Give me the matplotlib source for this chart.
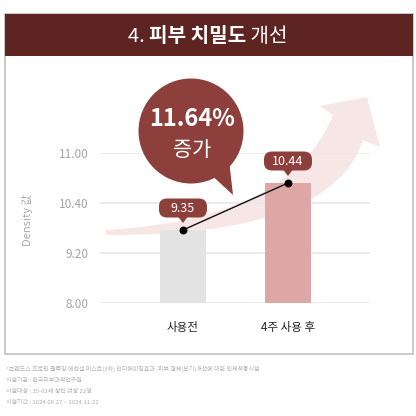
import matplotlib
matplotlib.use("Agg")
import matplotlib.pyplot as plt
import numpy as np
from matplotlib.patches import Rectangle, Circle, Polygon, FancyBboxPatch, PathPatch
from matplotlib.path import Path

plt.rcParams['font.family'] = ['Noto Sans CJK KR', 'DejaVu Sans']

# ---- data ----
categories = ["사용전", "4주 사용 후"]
values = [9.35, 10.44]
value_labels = ["9.35", "10.44"]
tick_labels = ["8.00", "9.20", "10.40", "11.00"]
ylabel = "Density 값"
title_parts = [("4. ", "normal"), ("피부 치밀도", "bold"), (" 개선", "normal")]
bubble_pct = "11.64%"
bubble_word = "증가"
footnotes = [
    "*브랜드스 프로틴 블루밍 에센셜 미스트(3차) 안티에이징효과, 피부 결체(보기)개선에 대한 인체적용시험",
    "시험기관 : 한국피부과학연구원",
    "시험대상 : 35-62세 성인 여성 22명",
    "시험기간 : 2024.09.27 ~ 2024.11.22",
]

bar_colors = ["#e3e3e3", "#dfa6a6"]
dark_red = "#8d3f3c"
header_col = "#5e2421"

W = 416
fig = plt.figure(figsize=(4.16, 4.16), dpi=100)

# overlay for decorations (pixel coords, y downward)
ov = fig.add_axes([0, 0, 1, 1], zorder=0)
ov.set_xlim(0, W); ov.set_ylim(W, 0); ov.axis('off')

# card
ov.add_patch(Rectangle((5, 14), 408, 340, facecolor='white', edgecolor='#c9c9c9', lw=1.4))
ov.add_patch(Rectangle((5, 14), 408, 42, facecolor=header_col, edgecolor='none'))

# title (mixed weights)
fig.canvas.draw()
r = fig.canvas.get_renderer()
texts = []
for s, w in title_parts:
    t = ov.text(0, 36, s, fontsize=14.5, color='white', fontweight=w, va='center', ha='left')
    texts.append(t)
widths = [t.get_window_extent(r).width for t in texts]
x0 = 208 - sum(widths) / 2
for t, wd in zip(texts, widths):
    t.set_x(x0); x0 += wd

# swoosh arrow (decoration)
verts = [(105, 230), (291, 220), (333, 115),
         (320, 106), (367, 97), (380, 147), (363, 140),
         (332, 236), (107, 235), (105, 230)]
codes = [Path.MOVETO, Path.CURVE3, Path.CURVE3,
         Path.LINETO, Path.LINETO, Path.LINETO, Path.LINETO,
         Path.CURVE3, Path.CURVE3, Path.CLOSEPOLY]
ov.add_patch(PathPatch(Path(verts, codes), facecolor='#f7e6e6', edgecolor='none'))

# main chart axes: px x 100..370, y 153..303
ax = fig.add_axes([100 / W, (W - 303) / W, 270 / W, 150 / W], zorder=1)
ax.patch.set_alpha(0)
ylim = (7.657, 11.136)
ax.set_xlim(-0.79, 1.781)
ticks = np.linspace(ylim[0], ylim[1], len(tick_labels))
for tk in ticks:
    ax.axhline(tk, color='#e9e9e9', lw=1.3, zorder=0)
x = np.arange(len(categories))
ax.bar(x, values, width=0.44, color=bar_colors, zorder=2)
ax.set_ylim(*ylim)
ax.set_yticks(ticks)
ax.set_yticklabels(tick_labels, fontsize=8.5, color='#a3a3a3')
ax.tick_params(axis='y', length=0, pad=8)
ax.set_xticks(x)
ax.set_xticklabels(categories, fontsize=8.3, color='#222222', fontweight='medium')
ax.tick_params(axis='x', length=0, pad=13)
for sp in ax.spines.values():
    sp.set_visible(False)
ax.plot(x, values, color='#111111', lw=1.0, zorder=3)
ax.scatter(x, values, s=22, color='black', zorder=4)
ax.set_ylabel(ylabel, fontsize=8, color='#a8a8a8')
ax.yaxis.set_label_coords(-0.248, 0.553)

# top layer for bubble and value labels
top = fig.add_axes([0, 0, 1, 1], zorder=2)
top.set_xlim(0, W); top.set_ylim(W, 0); top.axis('off')

# value label boxes, positioned from data
for xi, v, lab in zip(x, values, value_labels):
    dx, dy = ax.transData.transform((xi, v))
    py = W - dy
    bw, bh = 48, 19
    cy = py - 22
    top.add_patch(FancyBboxPatch((dx - bw / 2, cy - bh / 2), bw, bh,
                                 boxstyle="round,pad=0,rounding_size=8",
                                 facecolor=dark_red, edgecolor='none'))
    top.add_patch(Polygon([(dx - 5, cy + bh / 2 - 1), (dx + 5, cy + bh / 2 - 1), (dx, py - 7)],
                          closed=True, facecolor=dark_red, edgecolor='none'))
    top.text(dx, cy, lab, fontsize=9, color='white', ha='center', va='center')

# speech bubble
top.add_patch(Circle((191, 131), 52.5, facecolor=dark_red, edgecolor='none'))
top.add_patch(Polygon([(206, 170), (229, 160), (233, 195)], closed=True,
                      facecolor=dark_red, edgecolor='none'))
top.text(192, 119, bubble_pct, fontsize=17, fontweight='bold', color='white', ha='center', va='center')
top.text(192, 150, bubble_word, fontsize=15, color='white', ha='center', va='center')

# footnotes
for i, s in enumerate(footnotes):
    ov.text(6, 369 + i * 11, s, fontsize=4.3, color='#b0b0b0', ha='left', va='center')

fig.savefig("out.png", dpi=100)
